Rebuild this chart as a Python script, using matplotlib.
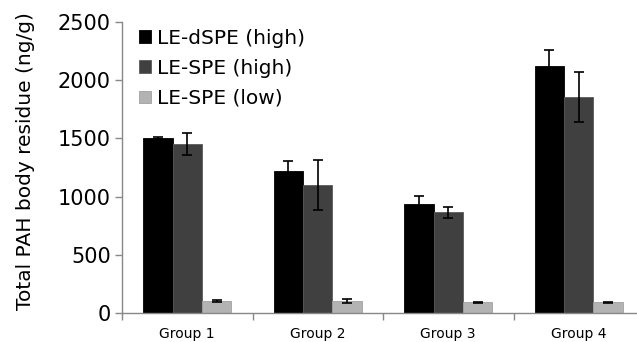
import matplotlib
matplotlib.use("Agg")
import matplotlib.pyplot as plt
import numpy as np

plt.rcParams['font.family'] = ['DejaVu Sans']

groups = ["Group 1", "Group 2", "Group 3", "Group 4"]
series_names = ["LE-dSPE (high)", "LE-SPE (high)", "LE-SPE (low)"]
dspe_high = [1503, 1220, 936, 2125]
dspe_high_err = [10, 86, 69, 137]
spe_high = [1452, 1100, 865, 1858]
spe_high_err = [95, 215, 46, 213]
spe_low = [103, 103, 92, 92]
spe_low_err = [5, 20, 3, 3]
yticks = [0, 500, 1000, 1500, 2000, 2500]

fig = plt.figure(figsize=(6.37, 3.42), dpi=100)
W, H = 637, 342
left, right, bottom, top = 122, 644, 313, 22
ax = fig.add_axes([left / W, 1 - bottom / H, (right - left) / W, (bottom - top) / H])

x = np.arange(len(groups))
bw = 0.226
colors = ["#000000", "#404040", "#b3b3b3"]
edges = ["#000000", "#5a5a5a", "#a0a0a0"]
data = [(dspe_high, dspe_high_err), (spe_high, spe_high_err), (spe_low, spe_low_err)]
handles = []
for i, ((vals, errs), c, ec, name) in enumerate(zip(data, colors, edges, series_names)):
    b = ax.bar(x + (i - 1) * bw, vals, bw, color=c, edgecolor=ec, linewidth=0.6, label=name,
               yerr=errs, error_kw=dict(ecolor="black", elinewidth=1.2, capsize=3.5, capthick=1.2), zorder=2)
    handles.append(b)

ax.set_xlim(-0.5, len(groups) - 0.5)
ax.set_ylim(0, 2500)
ax.set_yticks(yticks)
ax.set_yticklabels([str(v) for v in yticks], fontsize=15)
ax.set_xticks(x)
ax.set_xticklabels(groups, fontsize=10)
ax.tick_params(axis='x', length=0, pad=10)
ax.set_xticks(np.arange(-0.5, len(groups) + 0.5, 1), minor=True)
ax.tick_params(axis='x', which='minor', length=5, color="#888888", width=1)
ax.tick_params(axis='y', length=5, color="#888888", width=1, pad=3)
for s in ["top", "right"]:
    ax.spines[s].set_visible(False)
for s in ["left", "bottom"]:
    ax.spines[s].set_color("#888888")
    ax.spines[s].set_linewidth(1)
ax.set_ylabel("Total PAH body residue (ng/g)", fontsize=14.5, va="center")
ax.yaxis.set_label_coords((26 - left) / (right - left), (bottom - 161) / (bottom - top))

leg = ax.legend(handles=handles, loc="upper left", bbox_to_anchor=(0.018, 1.005), frameon=False,
                fontsize=14.5, handlelength=0.55, handleheight=0.55, handletextpad=0.3,
                labelspacing=0.55, borderaxespad=0)

fig.savefig("out.png", dpi=100)
